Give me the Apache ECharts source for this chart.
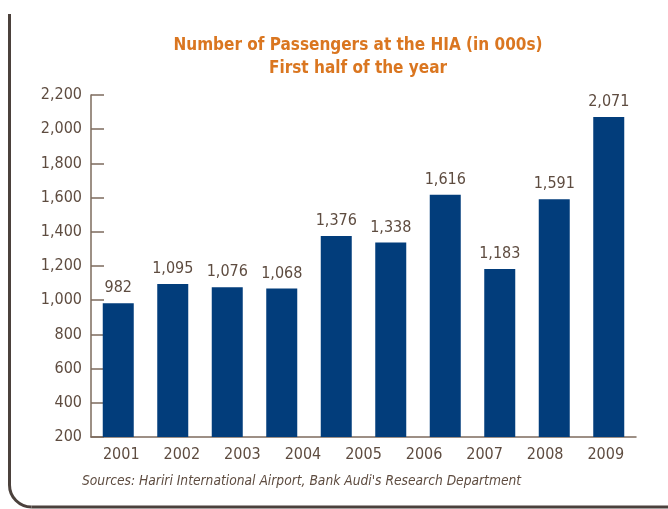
<!DOCTYPE html>
<html>
<head>
<meta charset="utf-8">
<script src="https://cdn.jsdelivr.net/npm/echarts@6/dist/echarts.min.js"></script>
<style>
html, body { margin: 0; padding: 0; background: #fff; }
#main { width: 668px; height: 509px; }
</style>
</head>
<body>
<div id="main"></div>
<script>
// values (in 000s), ten bars
var passengers = [982, 1095, 1076, 1068, 1376, 1338, 1616, 1183, 1591, 2071];
// the original only prints nine year labels under the ten bars
var yearLabels = ['2001', '2002', '2003', '2004', '2005', '2006', '2007', '2008', '2009'];
var yTicks = { min: 200, max: 2200, step: 200 };

var font = "'DejaVu Sans Condensed', 'Liberation Sans Narrow', sans-serif";
var textColor = '#5e4c40';
var axisColor = '#7d6b5d';
var frameColor = '#4b413c';

function commas(v) {
    return Number(v).toLocaleString('en-US');
}

var myChart = echarts.init(document.getElementById('main'));

var option = {
    animation: false,
    title: [{
        text: 'Number of Passengers at the HIA (in 000s)\nFirst half of the year',
        left: 353,
        top: 29,
        textAlign: 'center',
        textStyle: {
            color: '#da7620',
            fontFamily: font,
            fontWeight: 'bold',
            fontSize: 17,
            lineHeight: 23
        }
    }],
    grid: {
        left: 91,
        right: 32,
        top: 95,
        bottom: 72
    },
    xAxis: [{
        type: 'category',
        position: 'bottom',
        data: passengers.map(function (v, i) { return String(i); }),
        axisLine: { lineStyle: { color: axisColor, width: 1.5 } },
        axisTick: { inside: true, length: 9, lineStyle: { color: axisColor, width: 1.5 } },
        axisLabel: { show: false }
    }, {
        type: 'category',
        position: 'bottom',
        data: yearLabels,
        axisLine: { show: false },
        axisTick: { show: false },
        axisLabel: {
            margin: 10,
            color: textColor,
            fontFamily: font,
            fontSize: 16
        }
    }],
    yAxis: {
        type: 'value',
        min: yTicks.min,
        max: yTicks.max,
        interval: yTicks.step,
        axisLine: { show: true, lineStyle: { color: axisColor, width: 1.5 } },
        axisTick: { show: true, inside: true, length: 13, lineStyle: { color: axisColor, width: 1.5 } },
        splitLine: { show: false },
        axisLabel: {
            margin: 9,
            color: textColor,
            fontFamily: font,
            fontSize: 16,
            formatter: commas
        }
    },
    series: [{
        type: 'bar',
        xAxisIndex: 0,
        data: passengers,
        barWidth: 31,
        itemStyle: { color: '#023d7b' },
        label: {
            show: true,
            position: 'top',
            distance: 7,
            color: textColor,
            fontFamily: font,
            fontSize: 16,
            formatter: function (p) { return commas(p.value); }
        }
    }],
    graphic: [{
        type: 'text',
        left: 82,
        top: 474,
        style: {
            text: "Sources: Hariri International Airport, Bank Audi's Research Department",
            fill: textColor,
            font: 'italic 13.7px ' + font
        }
    },
    // frame on the left with the rounded corner
    {
        type: 'line',
        shape: { x1: 9.5, y1: 14, x2: 9.5, y2: 485 },
        style: { stroke: frameColor, lineWidth: 3 }
    }, {
        type: 'arc',
        shape: { cx: 31.5, cy: 485, r: 22, startAngle: Math.PI / 2, endAngle: Math.PI, clockwise: true },
        style: { stroke: frameColor, lineWidth: 3, fill: null }
    }, {
        type: 'line',
        shape: { x1: 31.5, y1: 507, x2: 668, y2: 507 },
        style: { stroke: frameColor, lineWidth: 3 }
    }]
};

myChart.setOption(option);
</script>
</body>
</html>
